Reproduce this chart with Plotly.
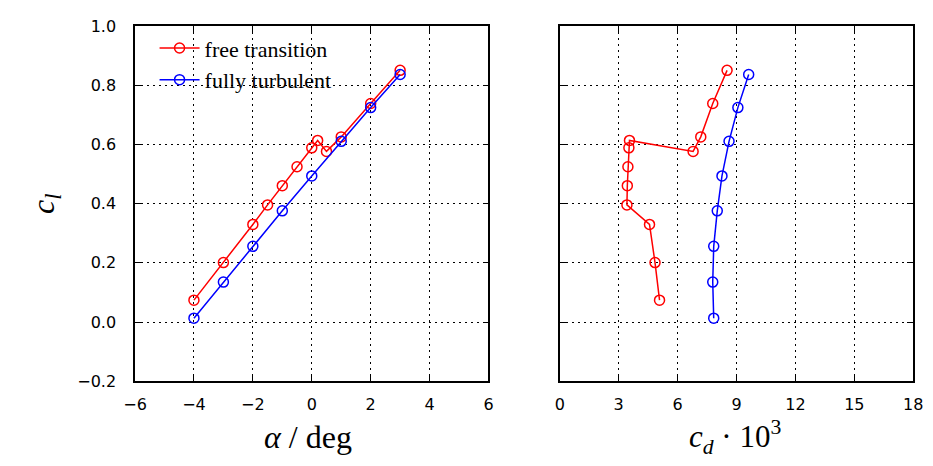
import plotly.graph_objects as go

# Lift curve data (alpha in deg, cl) and drag polar (cd*1e3, cl)
alpha_free = [-4, -3, -2, -1.5, -1, -0.5, 0, 0.2, 0.5, 1, 2, 3]
cl_free = [0.074, 0.201, 0.330, 0.396, 0.461, 0.525, 0.589, 0.614, 0.577, 0.626, 0.739, 0.851]
cd_free = [5.08, 4.85, 4.57, 3.42, 3.44, 3.47, 3.52, 3.55, 6.79, 7.18, 7.79, 8.52]

alpha_turb = [-4, -3, -2, -1, 0, 1, 2, 3]
cl_turb = [0.013, 0.135, 0.256, 0.376, 0.494, 0.611, 0.725, 0.837]
cd_turb = [7.84, 7.79, 7.84, 8.02, 8.26, 8.62, 9.07, 9.62]

names = ["free transition", "fully turbulent"]
colors = ["#ff0000", "#0000ff"]

x1_ticks = [-6, -4, -2, 0, 2, 4, 6]
x2_ticks = [0, 3, 6, 9, 12, 15, 18]
y_ticks = [-0.2, 0.0, 0.2, 0.4, 0.6, 0.8, 1.0]
y_ticklabels = ["\u22120.2", "0.0", "0.2", "0.4", "0.6", "0.8", "1.0"]
x1_ticklabels = ["\u22126", "\u22124", "\u22122", "0", "2", "4", "6"]

fig = go.Figure()

def marker(c):
    return dict(symbol="circle-open", size=10, color=c, line=dict(width=1.5, color=c))

fig.add_trace(go.Scatter(x=alpha_free, y=cl_free, mode="lines+markers", name=names[0],
                         legendgroup="a",
                         line=dict(color=colors[0], width=1.5), marker=marker(colors[0]),
                         xaxis="x", yaxis="y"))
fig.add_trace(go.Scatter(x=alpha_turb, y=cl_turb, mode="lines+markers", name=names[1],
                         legendgroup="b",
                         line=dict(color=colors[1], width=1.5), marker=marker(colors[1]),
                         xaxis="x", yaxis="y"))
fig.add_trace(go.Scatter(x=cd_free, y=cl_free, mode="lines+markers", showlegend=False,
                         line=dict(color=colors[0], width=1.5), marker=marker(colors[0]),
                         xaxis="x2", yaxis="y2"))
fig.add_trace(go.Scatter(x=cd_turb, y=cl_turb, mode="lines+markers", showlegend=False,
                         line=dict(color=colors[1], width=1.5), marker=marker(colors[1]),
                         xaxis="x2", yaxis="y2"))

tickfont = dict(family="DejaVu Sans", size=16, color="black")
common = dict(showline=True, linecolor="black", linewidth=1.5, mirror="ticks",
              ticks="inside", ticklen=6, tickwidth=1.3, tickcolor="black",
              showgrid=True, gridcolor="black", gridwidth=1, griddash="2px,4px",
              zeroline=False, tickfont=tickfont)

fig.update_layout(
    width=933, height=466,
    margin=dict(l=0, r=0, t=0, b=0),
    plot_bgcolor="white", paper_bgcolor="white",
    xaxis=dict(domain=[126/933, 488/933], range=[-6, 6], tickvals=x1_ticks,
               ticktext=x1_ticklabels, anchor="y", ticklabelstandoff=8, **common),
    yaxis=dict(domain=[1-388/466, 1-18/466], range=[-0.2, 1.0], tickvals=y_ticks,
               ticktext=y_ticklabels, anchor="x", ticklabelstandoff=14, **common),
    xaxis2=dict(domain=[561/933, 923/933], range=[0, 18], tickvals=x2_ticks,
                anchor="y2", ticklabelstandoff=8, **common),
    yaxis2=dict(domain=[1-388/466, 1-18/466], range=[-0.2, 1.0], tickvals=y_ticks,
                showticklabels=False, anchor="x2", **common),
    legend=dict(x=146/933, y=1-19/466, xanchor="left", yanchor="top",
                bgcolor="rgba(255,255,255,0)", borderwidth=0,
                font=dict(family="Liberation Serif", size=22, color="black"),
                itemwidth=40, traceorder="grouped", tracegroupgap=0),
    showlegend=True,
)

serif = dict(family="Liberation Serif", color="black")
fig.add_annotation(text="<i>c</i><sub><i>l</i></sub>", x=35/933, y=1-203/466,
                   xref="paper", yref="paper", showarrow=False, textangle=-90,
                   xanchor="center", yanchor="middle", font=dict(size=32, **serif))
fig.add_annotation(text="<i>\u03b1</i> / deg", x=303/933, y=1-446/466,
                   xref="paper", yref="paper", showarrow=False,
                   xanchor="center", yanchor="middle", font=dict(size=32, **serif))
fig.add_annotation(text="<i>c</i><sub><i>d</i></sub> \u00b7 10<sup>3</sup>", x=740/933, y=1-446/466,
                   xref="paper", yref="paper", showarrow=False,
                   xanchor="center", yanchor="middle", font=dict(size=31, **serif))

fig.write_html("out.html")
